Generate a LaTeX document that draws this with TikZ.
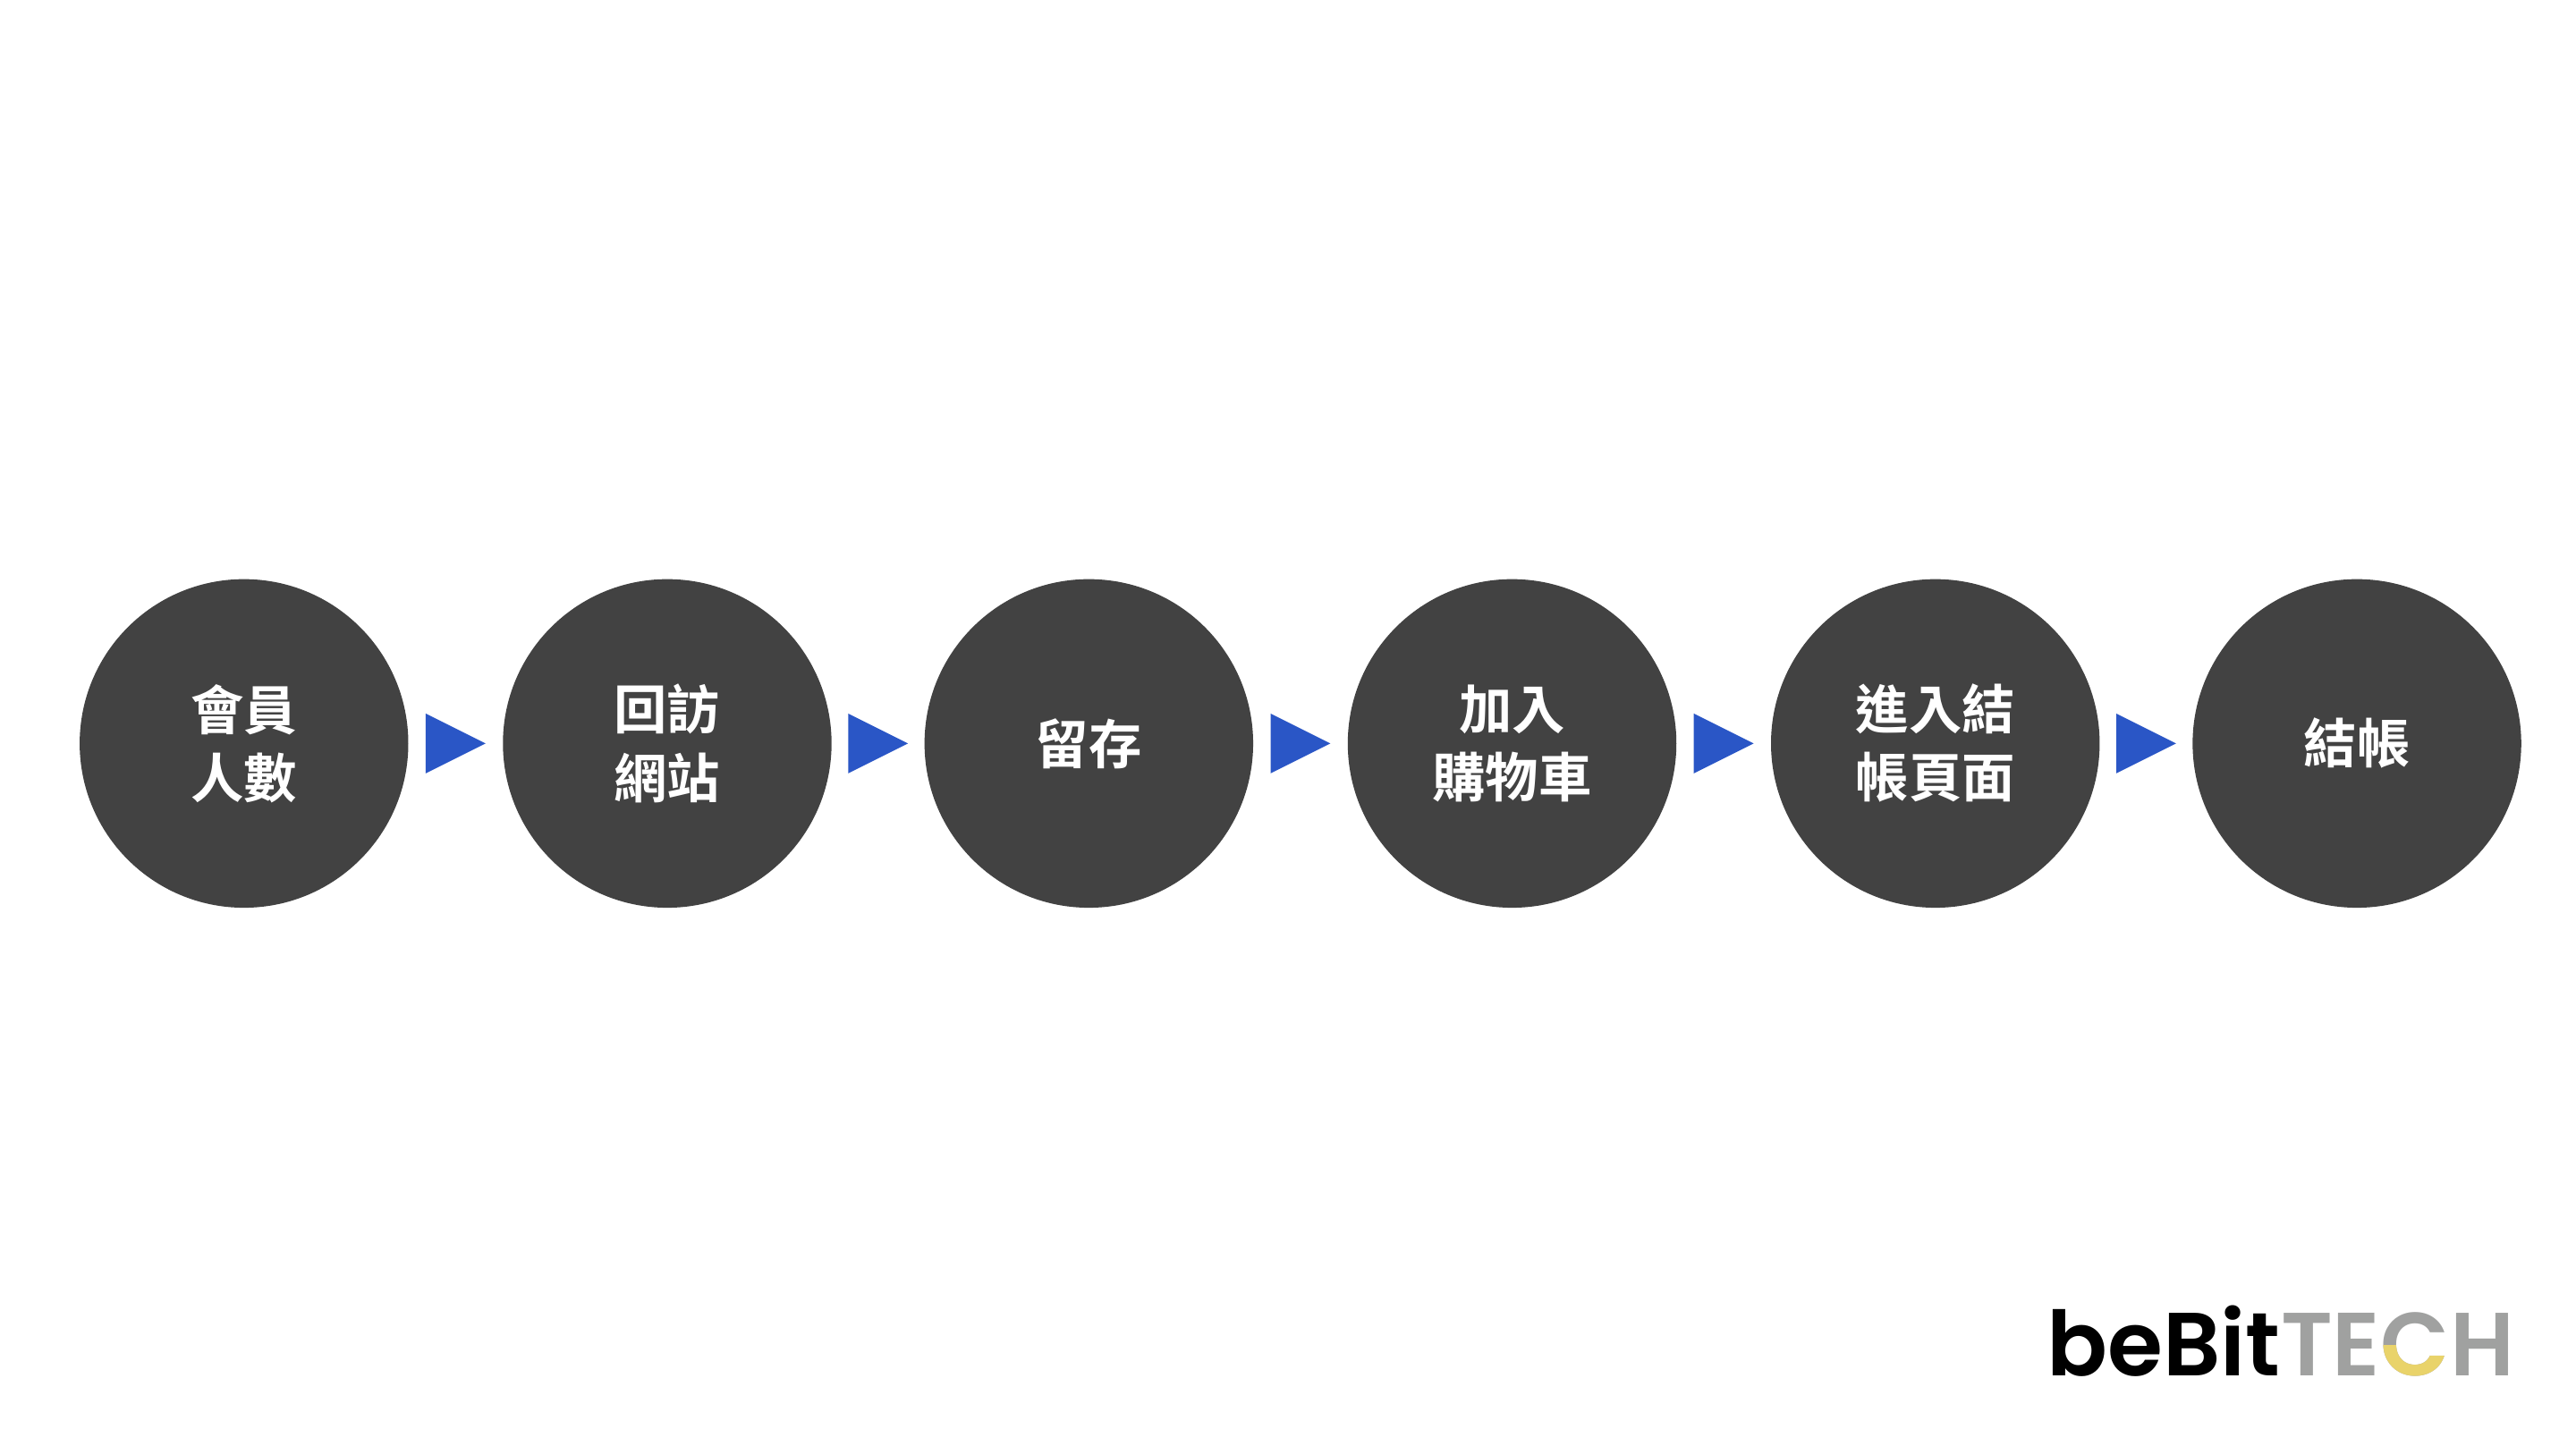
\documentclass[tikz,border=0pt]{standalone}
\usepackage{fontspec}
\newfontfamily\cjk{Noto Sans CJK TC Bold}
\newfontfamily\logo{Poppins SemiBold}
\definecolor{circ}{HTML}{424242}
\definecolor{arr}{HTML}{2A56C6}
\definecolor{lgray}{HTML}{A0A1A0}
\definecolor{lyel}{HTML}{E9D36A}
\begin{document}
\begin{tikzpicture}[x=1pt,y=-1pt,
  stage/.style={circle,fill=circ,minimum size=198pt,inner sep=0pt,text=white,font=\cjk\fontsize{32}{41}\selectfont,align=center},
  tri/.style={fill=arr},
  lg/.style={anchor=base west,inner sep=0pt,font=\logo\fontsize{54}{54}\selectfont}]
\useasboundingbox (0,0) rectangle (1552,871);
\fill[white] (0,0) rectangle (1552,871);
\node[stage] (a) at (147,448) {會員\\人數};
\node[stage] (b) at (402,448) {回訪\\網站};
\node[stage] (c) at (656,448) {留存};
\node[stage] (d) at (911,448) {加入\\購物車};
\node[stage] (e) at (1166,448) {進入結\\帳頁面};
\node[stage] (f) at (1420,448) {結帳};
\foreach \p/\q in {a/b,b/c,c/d,d/e,e/f}{
  \path (\p.east) -- (\q.west) coordinate[pos=0.5] (m\p);
  \fill[tri] ([xshift=-18pt,yshift=-18pt]m\p) -- ([xshift=18pt]m\p) -- ([xshift=-18pt,yshift=18pt]m\p) -- cycle;
}
\node[lg] (l1) at (1233,829) {beBit};
\node[lg,text=lgray] (l2) at (l1.base east) {TE};
\node[lg,text=lgray] (l3) at (l2.base east) {C};
\begin{scope}
\clip (l3.west |- 0,811) rectangle ([xshift=2pt]l3.east |- 0,840);
\node[lg,text=lyel] at (l2.base east) {C};
\end{scope}
\node[lg,text=lgray] (l4) at (l3.base east) {H};
\end{tikzpicture}
\end{document}
